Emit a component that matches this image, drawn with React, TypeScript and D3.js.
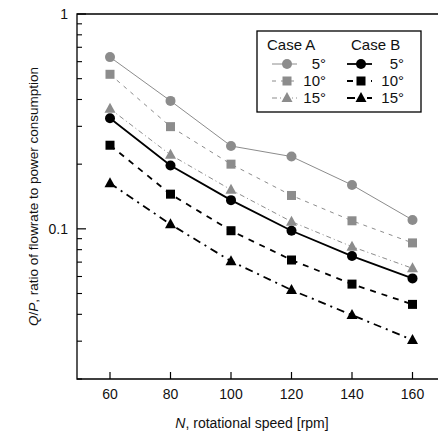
import React from "react";
import * as d3 from "d3";

const speeds = [60, 80, 100, 120, 140, 160];
const caseA5 = [0.63, 0.394, 0.243, 0.217, 0.16, 0.11];
const caseA10 = [0.524, 0.299, 0.2, 0.143, 0.109, 0.086];
const caseA15 = [0.362, 0.221, 0.152, 0.108, 0.0826, 0.0655];
const caseB5 = [0.327, 0.197, 0.136, 0.098, 0.0747, 0.0588];
const caseB10 = [0.245, 0.145, 0.098, 0.0716, 0.0553, 0.0445];
const caseB15 = [0.163, 0.105, 0.0707, 0.0519, 0.0397, 0.0304];
const xTickLabels = ["60", "80", "100", "120", "140", "160"];
const yTickValues = [1, 0.1];
const yTickLabels = ["1", "0.1"];
const seriesLabels = ["5°", "10°", "15°"];

type Marker = "circle" | "square" | "triangle";
const series: { values: number[]; color: string; dash: string; width: number; marker: Marker }[] = [
  { values: caseA5, color: "#8c8c8c", dash: "", width: 1, marker: "circle" },
  { values: caseA10, color: "#8c8c8c", dash: "4,5", width: 1, marker: "square" },
  { values: caseA15, color: "#8c8c8c", dash: "5,3,1,3", width: 1, marker: "triangle" },
  { values: caseB5, color: "#000", dash: "", width: 1.8, marker: "circle" },
  { values: caseB10, color: "#000", dash: "6,6", width: 1.8, marker: "square" },
  { values: caseB15, color: "#000", dash: "8,5,2,5", width: 1.8, marker: "triangle" },
];

function MarkerShape({ type, cx, cy, color }: { type: Marker; cx: number; cy: number; color: string }) {
  if (type === "circle") return <circle cx={cx} cy={cy} r={5} fill={color} />;
  if (type === "square") return <rect x={cx - 4.5} y={cy - 4.5} width={9} height={9} fill={color} />;
  return <path d={`M${cx},${cy - 6} L${cx + 5.5},${cy + 4} L${cx - 5.5},${cy + 4} Z`} fill={color} />;
}

export default function App() {
  const W = 438, H = 439;
  const left = 77, right = 438, top = 14, bottom = 379;
  const x = d3.scaleLinear().domain([60, 160]).range([110, 412.5]);
  const y = d3.scaleLog().domain([0.02, 1]).range([bottom, top]);
  const line = d3.line<number>().x((_, i) => x(speeds[i])).y((v) => y(v));
  const minor: number[] = [];
  for (const dec of [0.01, 0.1]) for (let k = 2; k <= 9; k++) { const v = k * dec; if (v >= 0.02 && v < 1) minor.push(v); }
  const font = "'Liberation Sans', Arial, sans-serif";

  return (
    <svg width={W} height={H} style={{ position: "absolute", left: 0, top: 0 }} fontFamily={font}>
      <rect width={W} height={H} fill="#fff" />
      {/* frame */}
      <path d={`M${right},${top} H${left} V${bottom} H${right}`} fill="none" stroke="#000" strokeWidth={1.3} />
      {/* x ticks */}
      {speeds.map((s, i) => (
        <g key={s}>
          <line x1={x(s)} x2={x(s)} y1={bottom} y2={bottom - 7} stroke="#000" strokeWidth={1.2} />
          <text x={x(s)} y={399} textAnchor="middle" fontSize={14} fill="#111">{xTickLabels[i]}</text>
        </g>
      ))}
      {/* y ticks */}
      {yTickValues.map((v, i) => (
        <g key={v}>
          <line x1={left} x2={left + 9} y1={y(v)} y2={y(v)} stroke="#000" strokeWidth={1.2} />
          <text x={68} y={y(v) + 5} textAnchor="end" fontSize={14} fill="#111">{yTickLabels[i]}</text>
        </g>
      ))}
      {minor.map((v) => (
        <line key={v} x1={left} x2={left + 5} y1={y(v)} y2={y(v)} stroke="#000" strokeWidth={1.1} />
      ))}
      {/* series */}
      {series.map((s, si) => (
        <g key={si}>
          <path d={line(s.values) || ""} fill="none" stroke={s.color} strokeWidth={s.width} strokeDasharray={s.dash} />
          {s.values.map((v, i) => (
            <MarkerShape key={i} type={s.marker} cx={x(speeds[i])} cy={y(v)} color={s.color} />
          ))}
        </g>
      ))}
      {/* legend */}
      <rect x={257} y={31} width={164} height={81} fill="#fff" stroke="#000" strokeWidth={1.3} />
      <text x={267} y={50} fontSize={15} fill="#111">Case A</text>
      <text x={351} y={50} fontSize={15} fill="#111">Case B</text>
      {[0, 1, 2].map((r) => {
        const cy = 64 + r * 17;
        const a = series[r];
        const b = series[r + 3];
        return (
          <g key={r}>
            <line x1={272} x2={297} y1={cy} y2={cy} stroke={a.color} strokeWidth={a.width} strokeDasharray={a.dash} />
            <MarkerShape type={a.marker} cx={287} cy={cy} color={a.color} />
            <text x={326} y={cy + 5} textAnchor="end" fontSize={15} fill="#111">{seriesLabels[r]}</text>
            <line x1={347} x2={372} y1={cy} y2={cy} stroke={b.color} strokeWidth={b.width} strokeDasharray={b.dash} />
            <MarkerShape type={b.marker} cx={361} cy={cy} color={b.color} />
            <text x={404} y={cy + 5} textAnchor="end" fontSize={15} fill="#111">{seriesLabels[r]}</text>
          </g>
        );
      })}
      {/* axis titles */}
      <text x={252} y={428} textAnchor="middle" fontSize={14} fill="#111">
        <tspan fontStyle="italic">N</tspan>, rotational speed [rpm]
      </text>
      <text transform={`translate(38,${(top + bottom) / 2}) rotate(-90)`} textAnchor="middle" fontSize={13.5} fill="#111">
        <tspan fontStyle="italic">Q</tspan>/<tspan fontStyle="italic">P</tspan>, ratio of flowrate to power consumption
      </text>
    </svg>
  );
}
